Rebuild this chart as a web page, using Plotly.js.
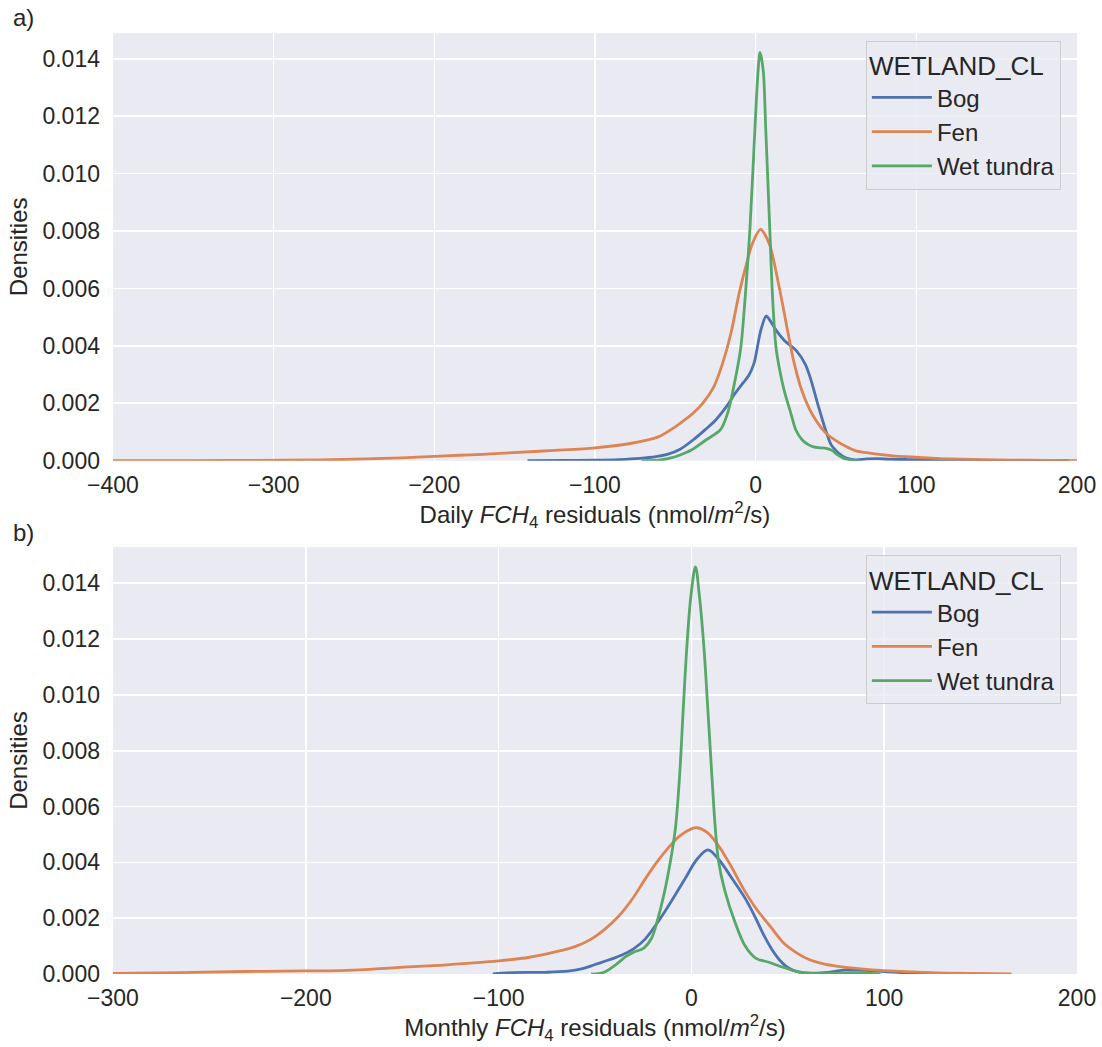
<!DOCTYPE html>
<html>
<head>
<meta charset="utf-8">
<script src="https://cdn.plot.ly/plotly-3.0.1.min.js"></script>
<style>html,body{margin:0;padding:0;background:#fff}#chart{width:1102px;height:1047px}</style>
</head>
<body>
<div id="chart"></div>
<script>
// ---- Panel a) Daily residuals ----
const dailyBogX = [-142,-120,-100,-85,-72,-62,-55,-47,-39,-31,-25,-18,-13,-8,-4.5,-1,3,6.5,9,13,18,25,31,34.5,37.5,40.5,43.5,47,50,53,56,62,69,76,84,95,110,130,160,195];
const dailyBogY = [0,0.00001,0.00002,0.00004,0.00008,0.00014,0.00022,0.0004,0.00072,0.0011,0.00141,0.0019,0.00233,0.0027,0.00295,0.0034,0.0045,0.00504,0.00488,0.00452,0.00418,0.00385,0.00335,0.0028,0.0022,0.00162,0.00107,0.00055,0.00035,0.0002,0.0001,0.00003,0.00006,0.00007,0.00005,0.00004,0.00003,0.00002,0.00001,0];

const dailyFenX = [-400,-350,-310,-270,-242,-220,-200,-185,-170,-151,-125,-100,-79,-61,-50,-46,-39,-33,-26,-20.6,-15.4,-10.3,-5.1,-2,3,8.4,14.6,19.8,24,29,35.4,43.7,50,56,62.4,69,80,87,100,122,140,160,180,200];
const dailyFenY = [0,0.000005,0.00001,0.00003,0.00006,0.0001,0.00015,0.00019,0.00022,0.00028,0.00036,0.00045,0.00059,0.00082,0.00118,0.00134,0.00165,0.002,0.00258,0.00339,0.00444,0.00583,0.00699,0.00757,0.00806,0.00757,0.00606,0.00455,0.00339,0.0024,0.0016,0.00096,0.0007,0.0005,0.00034,0.00028,0.0002,0.00016,0.00012,0.00006,0.00004,0.00002,0.00001,0.000005];

const dailyTundraX = [-71,-60,-54,-47,-40,-31,-22,-17.5,-12.8,-9.2,-6.5,-3.6,-0.5,1.4,2.7,4.7,6.3,8.8,10.5,12.6,14.2,17.7,21.9,25,29,33,36,40,44,47.8,50.5,53,56,60,65];
const dailyTundraY = [0,0.00002,0.00008,0.0002,0.00037,0.00072,0.00107,0.00165,0.00281,0.00397,0.00571,0.00804,0.01152,0.0135,0.01422,0.0136,0.01152,0.00804,0.00571,0.00397,0.00339,0.00246,0.00165,0.00107,0.00072,0.00055,0.00048,0.00045,0.00043,0.00035,0.00022,0.00014,0.00006,0.00002,0];

// ---- Panel b) Monthly residuals ----
const monthlyBogX = [-103,-93,-76,-64,-57,-50,-43,-36,-30,-24,-17,-10,-3,3,8.6,14,21,27.9,33,37.5,42,45.5,49,52.5,56,61,69,75,80,87,93,100,107,115,124,133];
const monthlyBogY = [0,0.00005,0.00006,0.0001,0.00018,0.00034,0.0005,0.00068,0.0009,0.00125,0.0019,0.00265,0.00345,0.00412,0.00445,0.00412,0.00343,0.00271,0.00205,0.0014,0.00085,0.00052,0.00028,0.00014,0.00007,0.00003,0.00005,0.0001,0.00015,0.00014,0.00012,0.00009,0.00006,0.00004,0.00002,0];

const monthlyFenX = [-300,-265,-231,-200,-179,-153,-127,-100,-84,-70,-60,-52,-45,-38,-31,-24,-18,-12,-6,0,3,8,14,20,27,34,41,48,55,61,68,76,88,100,124,145,166];
const monthlyFenY = [0.00002,0.00005,0.00009,0.00011,0.00013,0.00023,0.00033,0.00047,0.0006,0.0008,0.00099,0.00125,0.0016,0.00205,0.00265,0.0034,0.004,0.00452,0.00495,0.0052,0.00524,0.00508,0.0046,0.00393,0.00305,0.0023,0.0017,0.0011,0.00074,0.00052,0.00037,0.00027,0.00018,0.00012,0.00005,0.00002,0.000005];

const monthlyTundraX = [-52,-46,-39.3,-34,-30,-24.7,-20.7,-17.8,-14.3,-10.9,-8.3,-6.2,-4.3,-2.3,-0.2,2.1,4.1,6.4,8.6,10.7,12.4,14.1,17.3,22.3,27.9,33.3,40.3,47,55.5,63,72,82,90,98];
const monthlyTundraY = [0,0.00004,0.00033,0.00062,0.00078,0.00093,0.00128,0.00188,0.00283,0.00403,0.00522,0.00701,0.0094,0.01179,0.01358,0.01459,0.01358,0.01179,0.0094,0.00701,0.00522,0.00403,0.003,0.00192,0.001,0.00057,0.00042,0.00025,0.00008,0.00002,0.00002,0.00005,0.00004,0];

const seriesNames = ["Bog", "Fen", "Wet tundra"];
const seriesColors = ["#4C72B0", "#DD8452", "#55A868"];
const legendTitle = "WETLAND_CL";
const yTickVals = [0, 0.002, 0.004, 0.006, 0.008, 0.010, 0.012, 0.014];

const FONT = "Liberation Sans, Arial, Helvetica, sans-serif";
const TXT = "#262626";

const topData = [[dailyBogX, dailyBogY], [dailyFenX, dailyFenY], [dailyTundraX, dailyTundraY]];
const botData = [[monthlyBogX, monthlyBogY], [monthlyFenX, monthlyFenY], [monthlyTundraX, monthlyTundraY]];

const traces = [];
topData.forEach((d, i) => traces.push({
  x: d[0], y: d[1], type: 'scatter', mode: 'lines', name: seriesNames[i],
  line: {color: seriesColors[i], width: 2.8, shape: 'spline', smoothing: 0.8},
  xaxis: 'x', yaxis: 'y', legend: 'legend', cliponaxis: true
}));
botData.forEach((d, i) => traces.push({
  x: d[0], y: d[1], type: 'scatter', mode: 'lines', name: seriesNames[i],
  line: {color: seriesColors[i], width: 2.8, shape: 'spline', smoothing: 1.0},
  xaxis: 'x2', yaxis: 'y2', legend: 'legend2', cliponaxis: true
}));

const xCommon = {
  showgrid: true, gridcolor: '#ffffff', gridwidth: 1.6, zeroline: false, showline: false,
  ticks: '', ticklabelstandoff: 8, tickfont: {family: FONT, size: 23, color: TXT},
  dtick: 100, automargin: false
};
const yCommon = {
  showgrid: true, gridcolor: '#ffffff', gridwidth: 1.6, zeroline: false, showline: false,
  ticks: '', ticklabelstandoff: 12, tickfont: {family: FONT, size: 23, color: TXT},
  tickvals: yTickVals, tickformat: '.3f', automargin: false
};

const legendCommon = {
  bgcolor: 'rgba(234,234,242,0.8)', bordercolor: '#cccccc', borderwidth: 1,
  font: {family: FONT, size: 24, color: TXT},
  title: {text: legendTitle, font: {family: FONT, size: 26, color: TXT}},
  xanchor: 'left', yanchor: 'top', itemwidth: 60, tracegroupgap: 0
};

const layout = {
  width: 1102, height: 1047,
  margin: {l: 113, r: 25, t: 33, b: 73},
  paper_bgcolor: '#ffffff', plot_bgcolor: '#EAEAF2',
  font: {family: FONT, color: TXT},
  showlegend: true,
  xaxis: Object.assign({}, xCommon, {anchor: 'y', range: [-400, 200],
    title: {text: 'Daily <i>FCH</i><sub>4</sub> residuals (nmol/<i>m</i><sup>2</sup>/s)', font: {family: FONT, size: 24, color: TXT}, standoff: 6}}),
  yaxis: Object.assign({}, yCommon, {anchor: 'x', domain: [0.5455, 1], range: [0, 0.0149],
    title: {text: 'Densities', font: {family: FONT, size: 24, color: TXT}, standoff: 8}}),
  xaxis2: Object.assign({}, xCommon, {anchor: 'y2', range: [-300, 200],
    title: {text: 'Monthly <i>FCH</i><sub>4</sub> residuals (nmol/<i>m</i><sup>2</sup>/s)', font: {family: FONT, size: 24, color: TXT}, standoff: 6}}),
  yaxis2: Object.assign({}, yCommon, {anchor: 'x2', domain: [0, 0.4538], range: [0, 0.0153],
    title: {text: 'Densities', font: {family: FONT, size: 24, color: TXT}, standoff: 8}}),
  legend: Object.assign({}, legendCommon, {x: 0.781, y: 0.992}),
  legend2: Object.assign({}, legendCommon, {x: 0.781, y: 0.445}),
  annotations: [
    {text: 'a)', xref: 'paper', yref: 'paper', x: -0.106, y: 1.016, xanchor: 'left', yanchor: 'middle', showarrow: false, font: {family: FONT, size: 24, color: TXT}},
    {text: 'b)', xref: 'paper', yref: 'paper', x: -0.106, y: 0.4687, xanchor: 'left', yanchor: 'middle', showarrow: false, font: {family: FONT, size: 24, color: TXT}}
  ]
};

Plotly.newPlot('chart', traces, layout, {displayModeBar: false, staticPlot: true});
</script>
</body>
</html>
